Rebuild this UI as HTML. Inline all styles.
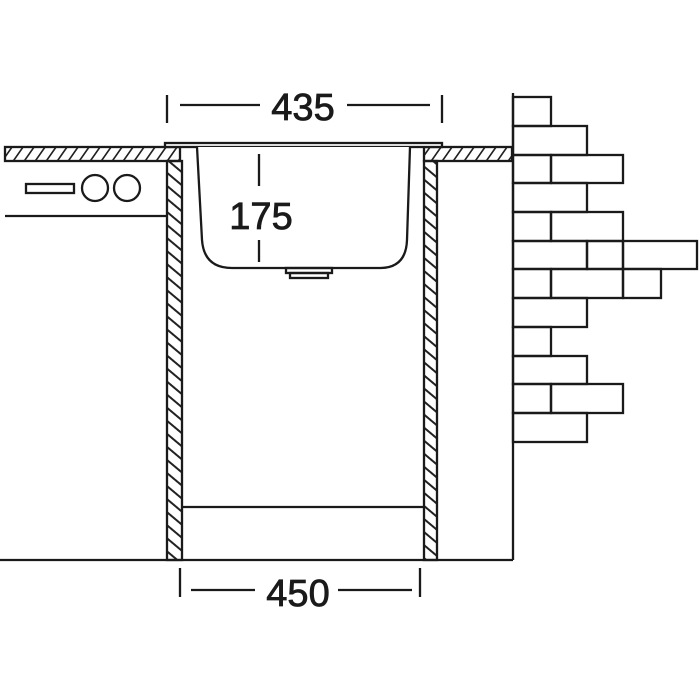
<!DOCTYPE html>
<html><head><meta charset="utf-8"><style>html,body{margin:0;padding:0;background:#fff}svg{display:block}</style></head>
<body>
<svg width="700" height="700" viewBox="0 0 700 700" xmlns="http://www.w3.org/2000/svg">
<defs>
<pattern id="h1" width="11" height="11" patternUnits="userSpaceOnUse" patternTransform="skewX(-35)">
<line x1="5" y1="0" x2="5" y2="11" stroke="#222" stroke-width="2"/></pattern>
<pattern id="h2" width="10" height="10" patternUnits="userSpaceOnUse" patternTransform="rotate(40)">
<line x1="0" y1="5" x2="10" y2="5" stroke="#222" stroke-width="2"/></pattern>
</defs>
<g stroke="#1a1a1a" stroke-width="2.3" fill="none">
<rect x="5" y="147" width="175" height="14" fill="url(#h1)"/>
<rect x="424" y="147" width="88" height="14" fill="url(#h1)"/>
<rect x="167" y="161" width="15" height="399" fill="url(#h2)"/>
<rect x="424" y="161" width="13" height="399" fill="url(#h2)"/>
<rect x="165" y="143" width="277" height="4" fill="#fff"/>
<path d="M197 147 L202 240 Q204 268 232 268 L380 268 Q406 268 407 240 L410 147" fill="#fff"/>
<rect x="286" y="268" width="46" height="5"/>
<rect x="290" y="273" width="38" height="5"/>
<line x1="5" y1="216" x2="167" y2="216"/>
<rect x="26" y="184" width="48" height="9"/>
<circle cx="95" cy="188" r="13"/>
<circle cx="127" cy="188" r="13"/>
<line x1="182" y1="507" x2="424" y2="507"/>
<line x1="0" y1="560" x2="513" y2="560"/>
<line x1="513" y1="93" x2="513" y2="560"/>
<g>
<rect x="513" y="97" width="38" height="29"/>
<rect x="513" y="126" width="74" height="29"/>
<rect x="513" y="155" width="38" height="28"/><rect x="551" y="155" width="72" height="28"/>
<rect x="513" y="183" width="74" height="29"/>
<rect x="513" y="212" width="38" height="29"/><rect x="551" y="212" width="72" height="29"/>
<rect x="513" y="241" width="74" height="28"/><rect x="587" y="241" width="36" height="28"/><rect x="623" y="241" width="74" height="28"/>
<rect x="513" y="269" width="38" height="29"/><rect x="551" y="269" width="72" height="29"/><rect x="623" y="269" width="38" height="29"/>
<rect x="513" y="298" width="74" height="29"/>
<rect x="513" y="327" width="38" height="29"/>
<rect x="513" y="356" width="74" height="28"/>
<rect x="513" y="384" width="38" height="29"/><rect x="551" y="384" width="72" height="29"/>
<rect x="513" y="413" width="74" height="29"/>
</g>
<line x1="167" y1="95" x2="167" y2="123"/><line x1="442" y1="95" x2="442" y2="123"/>
<line x1="180" y1="105" x2="260" y2="105"/><line x1="347" y1="105" x2="430" y2="105"/>
<line x1="259" y1="154" x2="259" y2="186"/><line x1="259" y1="240" x2="259" y2="262"/>
<line x1="180" y1="568" x2="180" y2="597"/><line x1="420" y1="568" x2="420" y2="597"/>
<line x1="191" y1="590" x2="255" y2="590"/><line x1="338" y1="590" x2="412" y2="590"/>
</g>
<g font-family="Liberation Sans, sans-serif" font-size="38" fill="#1a1a1a" stroke="#1a1a1a" stroke-width="0.8" text-anchor="middle">
<text x="303" y="120">435</text>
<text x="261" y="229">175</text>
<text x="298" y="606">450</text>
</g>
</svg>
</body></html>
